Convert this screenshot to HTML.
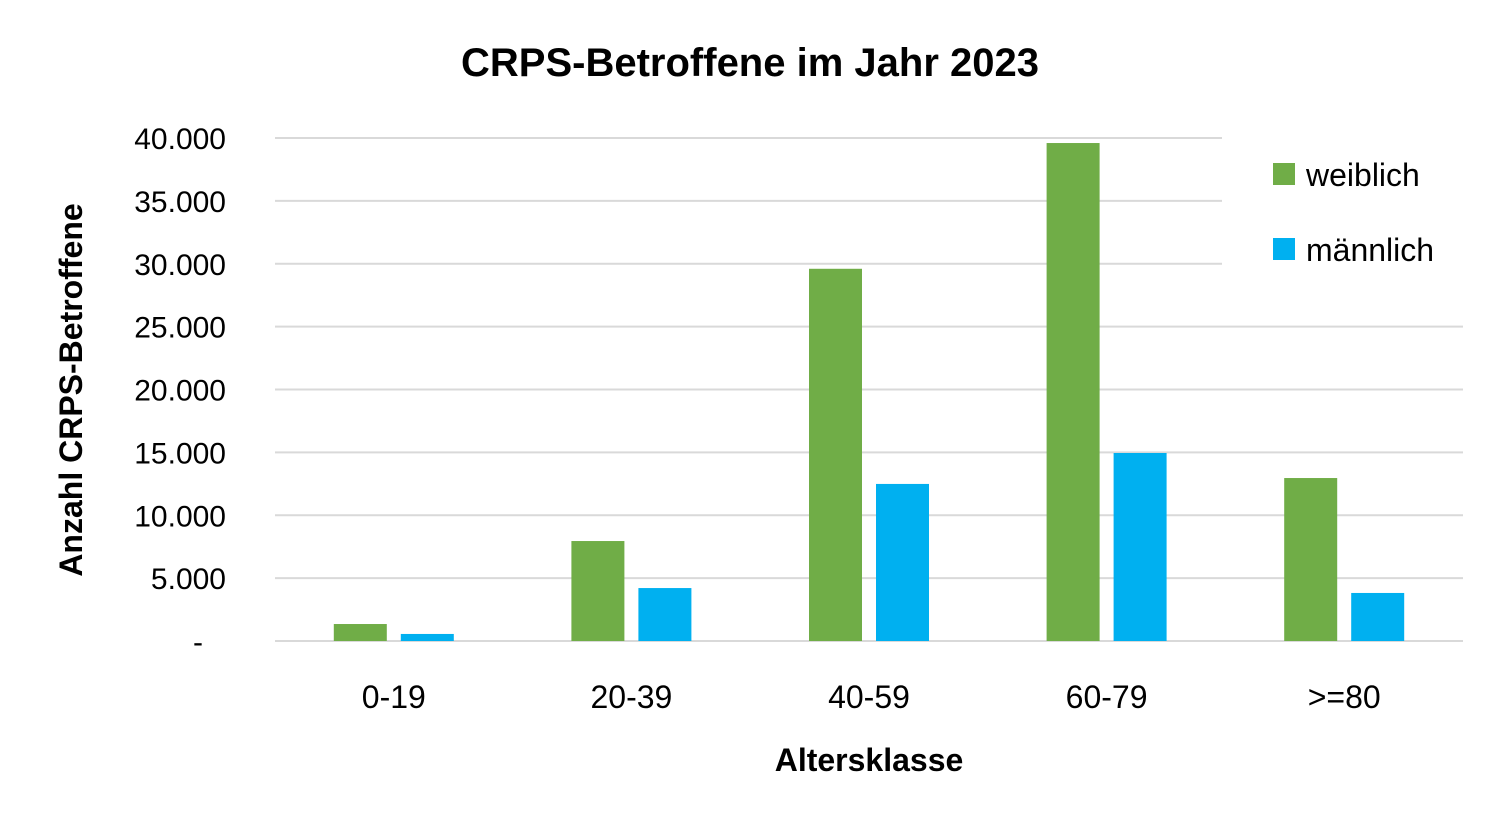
<!DOCTYPE html>
<html><head><meta charset="utf-8"><style>
body{margin:0;background:#fff;}
svg text{font-family:"Liberation Sans","DejaVu Sans",sans-serif;fill:#000;}
</style></head><body>
<svg width="1495" height="822" id="chart">
<text x="750" y="76" text-anchor="middle" font-size="40" font-weight="bold">CRPS-Betroffene im Jahr 2023</text>
<g id="grid"></g><g id="bars"></g><g id="ticks"></g>
<rect x="1222" y="132" width="241" height="152" fill="#fff"/>
<rect x="1273" y="163" width="22" height="22" fill="#70ad47"/>
<text x="1306" y="186" font-size="32">weiblich</text>
<rect x="1273" y="238" width="22" height="22" fill="#00b0f0"/>
<text x="1306" y="261" font-size="32">männlich</text>
<text x="869" y="771" text-anchor="middle" font-size="32" font-weight="bold">Altersklasse</text>
<text transform="translate(82,390) rotate(-90)" text-anchor="middle" font-size="32" font-weight="bold">Anzahl CRPS-Betroffene</text>
</svg>
<script>
const categories=["0-19","20-39","40-59","60-79",">=80"];
const weiblich=[1350,7950,29600,39600,12960];
const maennlich=[560,4210,12490,14950,3820];
const yTicks=[0,5000,10000,15000,20000,25000,30000,35000,40000];
const yTickLabels=["-","5.000","10.000","15.000","20.000","25.000","30.000","35.000","40.000"];
const NS="http://www.w3.org/2000/svg";
const x0=275,x1=1463,yb=641,yt=138,ymax=40000;
const y=v=>yb-(v/ymax)*(yb-yt);
const band=(x1-x0)/categories.length;
const cx=i=>x0+band*(i+0.5);
function mk(t,a,p){const e=document.createElementNS(NS,t);for(const k in a)e.setAttribute(k,a[k]);document.getElementById(p).appendChild(e);return e;}
yTicks.forEach((v,i)=>{
 const l=mk("line",{x1:x0,x2:x1,y1:y(v),y2:y(v),stroke:"#d9d9d9","stroke-width":2},"grid");
 
 
 const t=mk("text",{x:i===0?203:226,y:y(v)+11,"text-anchor":"end","font-size":30},"ticks");
 t.textContent=yTickLabels[i];
 
 
});
const bw=53,gap=14;
categories.forEach((c,i)=>{
 const w=mk("rect",{x:cx(i)-gap/2-bw,y:y(weiblich[i]),width:bw,height:yb-y(weiblich[i]),fill:"#70ad47"},"bars");
 
 
 const m=mk("rect",{x:cx(i)+gap/2,y:y(maennlich[i]),width:bw,height:yb-y(maennlich[i]),fill:"#00b0f0"},"bars");
 
 
 const t=mk("text",{x:cx(i),y:708,"text-anchor":"middle","font-size":32},"ticks");
 t.textContent=c;
 
 
});
</script>
</body></html>
